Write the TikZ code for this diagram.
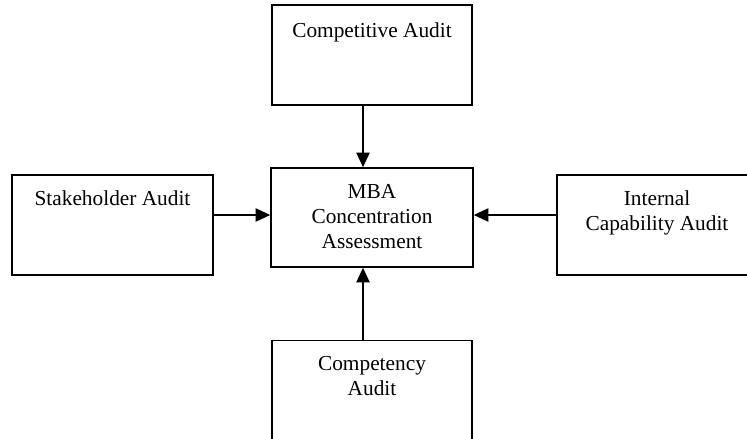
\documentclass[tikz,border=0pt]{standalone}
\usepackage{fontspec}
\setmainfont{Liberation Serif}
\usetikzlibrary{arrows.meta}

% multi-line label whose reference point is the first baseline
\newcommand{\boxtext}[1]{\begin{tabular}[t]{@{}c@{}}#1\end{tabular}}

\begin{document}
\begin{tikzpicture}[x=0.75pt,y=-0.75pt,
  auditbox/.style={draw=black, line width=1.2pt, rectangle, inner sep=0pt,
                   minimum width=150pt, minimum height=75pt},
  boxlabel/.style={anchor=base, inner sep=0pt,
                   font=\fontsize{16}{18.75}\selectfont},
  link/.style={draw=black, line width=1.2pt,
               -{Triangle[length=11pt,width=10pt]}}]

  \useasboundingbox (0,0) rectangle (747,439);

  % boxes
  \node[auditbox] (top)   at (372,55)    {};
  \node[auditbox, minimum width=151.5pt, minimum height=74.25pt] (mid) at (372,217.5) {};
  \node[auditbox, minimum width=150.75pt] (left)  at (112.5,225) {};
  \node[auditbox] (right) at (657,225)   {};
  \node[auditbox] (bot)   at (372,390.5) {};

  % labels
  \node[boxlabel] (ttop)   at (372,37)  {\boxtext{Competitive Audit}};
  \node[boxlabel] (tmid)   at (372,198) {\boxtext{MBA\\Concentration\\Assessment}};
  \node[boxlabel] (tleft)  at (112.5,205) {\boxtext{Stakeholder Audit}};
  \node[boxlabel] (tright) at (657,205) {\boxtext{Internal\\Capability Audit}};
  \node[boxlabel] (tbot)   at (372,370) {\boxtext{Competency\\Audit}};

  % connectors into the central assessment
  \draw[link] ([xshift=-6.75pt]top.south) -- ([xshift=-6.75pt]mid.north);
  \draw[link] ([xshift=-6.75pt]bot.north) -- ([xshift=-6.75pt]mid.south);
  \draw[link] ([yshift=7.5pt]left.east) -- ([yshift=7.5pt]left.east -| mid.west);
  \draw[link] ([yshift=7.5pt]right.west) -- ([yshift=7.5pt]right.west -| mid.east);
\end{tikzpicture}
\end{document}
